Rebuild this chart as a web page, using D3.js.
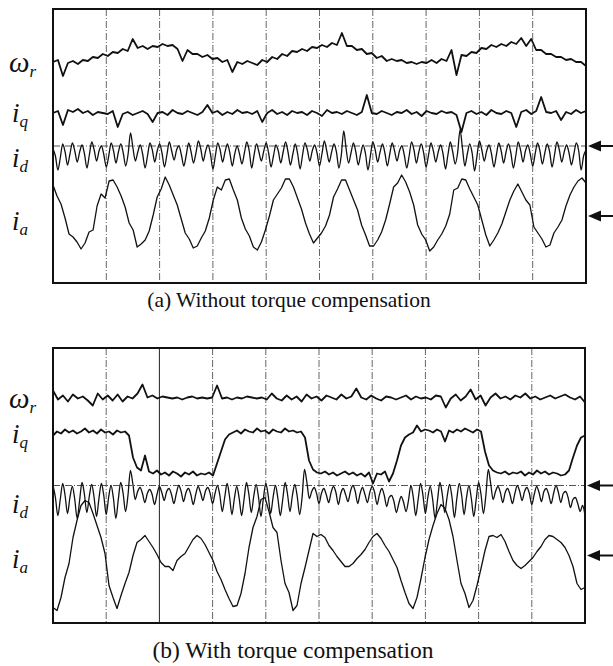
<!DOCTYPE html>
<html>
<head>
<meta charset="utf-8">
<script src="https://cdn.jsdelivr.net/npm/d3@7"></script>
<style>
  html, body { margin: 0; padding: 0; background: #fff; }
  svg { display: block; }
</style>
</head>
<body>
<svg id="chart" width="613" height="666"></svg>
<script>
// ---------------- DATA (read from the scope captures) ----------------
// time axis: 10 scope divisions; vertical values in screen units relative to the centre line
const timeDivisions = [0, 10];
const gridDivisions = [1, 2, 3, 4, 5, 6, 7, 8, 9];
const traceNames = ["ω", "i", "i", "i"];
const traceSubs = ["r", "q", "d", "a"];
const captions = ["(a) Without torque compensation", "(b) With torque compensation"];
const groundMarks = [0, -70];   // id and ia zero levels (arrows)

// ---- (a) without torque compensation ----
const wrA = [84,86,70,83,85,82,86,85,89,88, 92,90,94,93,97,95,107,98,100,97,
  100,99,102,100,101,97,85,96,92,92, 89,91,87,88,84,86,74,84,82,85,
  83,81,86,84,89,87,92,90,95,94, 97,95,99,98,101,99,103,101,113,100,
  100,96,97,92,93,88,90,85,87,85, 86,83,84,82,84,83,86,83,87,85,
  96,71,91,90,94,93,98,97,101,99, 102,100,104,102,108,100,107,96,96,92,
  92,89,89,86,87,84,84,80];
const iqA = [33,35,21,36,34,37,33,35,31,34, 33,32,35,19,32,34,31,33,35,32,
  24,33,34,31,36,33,32,35,33,31, 34,41,33,35,31,34,32,36,33,34,
  32,35,24,33,36,32,34,31,35,33, 34,31,35,33,30,36,33,34,32,35,
  33,31,34,51,33,32,35,33,31,34, 33,36,32,34,30,35,33,32,35,33,
  34,31,14,33,35,32,34,31,36,33, 32,35,33,19,34,36,32,35,49,34,
  33,35,26,34,32,36,33,35];
const idA = [-3,-10,-24,-12, 2,-6,-19,-8, 3,-5,-16,-6, 1,-8,-22,-9, 4,-4,-15,-5,
  0,-9,-21,-10, 3,-5,-17,-6, 2,-7,-20,-8, 13,-2,-15,-6, 1,-8,-22,-10,
  3,-4,-16,-5, 2,-7,-21,-9, 4,-5,-14,-4, 0,-9,-20,-9, 3,-6,-17,-7,
  5,-3,-15,-5, 1,-8,-23,-10, 3,-4,-16,-6, 2,-7,-20,-8, 0,-8,-18,-7,
  4,-5,-22,-9, 2,-6,-15,-5, 3,-7,-21,-10, 1,-5,-17,-6, 4,-6,-19,-8,
  2,-8,-23,-9, 3,-4,-15,-5, 1,-7,-20,-8, 5,-5,-16,-6, 2,-6,-22,-9,
  15,-3,-17,-7, 3,-6,-19,-8, 1,-8,-24,-10, 4,-4,-16,-6, 2,-7,-20,-8,
  3,-5,-15,-5, 0,-9,-22,-10, 4,-4,-17,-6, 2,-7,-21,-9, 3,-5,-16,-6,
  1,-8,-23,-9, 4,-6,-18,-7, 16,-2,-20,-8, 2,-7,-25,-10, 5,-4,-15,-5,
  1,-8,-21,-9, 3,-5,-17,-6, 2,-7,-22,-10, 4,-4,-16,-5, 1,-8,-20,-8,
  3,-5,-18,-7, 2,-6,-21,-9, 4,-4,-16,-6, 1,-7,-19,-8, 3,-5,-24,-10, -4];
const iaA = [-39,-50,-58,-72,-88,-91,-96,-103,-97,-86, -84,-60,-48,-52,-35,-34,-41,-50,-61,-77,
  -84,-101,-98,-94,-85,-69,-51,-43,-31,-39, -49,-59,-73,-87,-93,-102,-100,-92,-85,-72,
  -54,-41,-44,-34,-33,-44,-54,-72,-83,-90, -101,-104,-96,-84,-70,-54,-48,-42,-33,-33,
  -41,-52,-63,-77,-88,-97,-92,-87,-80,-69, -51,-43,-34,-34,-44,-54,-64,-79,-89,-100,
  -100,-94,-86,-74,-58,-41,-37,-29,-36,-46, -59,-79,-88,-94,-105,-101,-94,-88,-80,-68,
  -44,-42,-33,-34,-43,-51,-59,-74,-89,-100, -94,-87,-78,-66,-54,-45,-38,-46,-54,-59,
  -81,-87,-93,-101,-99,-87,-81,-74,-60,-49, -41,-35,-32,-37];

// ---- (b) with torque compensation ----
const wrB = [95,86,90,84,91,87,89,85,80,92, 86,90,85,91,84,89,87,92,101,88,
  90,87,89,88,87,88,86,88,89,87, 88,87,88,100,87,88,86,88,87,89,
  88,87,88,86,92,87,85,90,86,89, 84,91,87,89,85,90,88,86,91,87,
  89,97,88,86,90,87,85,89,88,86, 88,90,86,89,87,88,86,90,89,78,
  87,91,85,89,96,86,90,80,88,92, 87,89,86,90,88,92,87,89,86,88,
  90,87,89,91,88,86,89,83];
const iqB = [50,54,52,56,53,55,52,54,57,53, 55,52,56,53,54,51,55,53,54,50,
  28,18,15,30,14,12,15,11,13,10, 14,12,9,13,11,14,10,12,11,13,
  10,22,34,46,51,53,55,52,56,54, 53,57,54,55,52,56,54,53,57,54,
  55,53,54,48,25,16,13,12,14,11, 13,10,12,14,11,13,10,12,9,13,
  2,12,11,14,4,12,25,40,48,51, 53,60,54,56,55,53,56,54,44,55,
  53,56,54,57,55,53,56,54,34,20, 15,13,12,14,11,13,12,14,10,13,
  11,15,12,14,11,13,12,10,11,15, 28,40,48,50];
const idB = [0,-12,-30,-14, 2,-10,-28,-12, -1,-14,-33,-15, 3,-9,-27,-11, 1,-12,-31,-13,
  2,-10,-29,-12, 0,-13,-33,-14, 3,-8,-26,-10, 15,2,-14,-6, -2,-8,-17,-8,
  -4,-9,-19,-9, -1,-7,-15,-6, -3,-9,-18,-8, 0,-6,-16,-7, -3,-9,-19,-9,
  -1,-7,-15,-6, -2,-8,-18,-8, 0,-10,-26,-12, 2,-11,-29,-13, -1,-13,-30,-14,
  3,-9,-27,-11, 1,-12,-31,-13, 2,-10,-28,-12, 0,-13,-30,-14, 3,-9,-26,-10,
  1,-11,-29,-12, 16,3,-13,-6, -2,-8,-18,-8, -3,-9,-17,-7, -1,-7,-19,-8,
  -3,-9,-16,-6, 0,-6,-18,-8, -2,-9,-17,-7, -1,-7,-19,-9, -3,-10,-21,-12,
  -10,-16,-27,-18, -11,-17,-26,-15, 0,-12,-30,-14, 2,-10,-28,-12, -1,-14,-33,-15,
  3,-9,-27,-11, 1,-12,-32,-13, 2,-10,-29,-12, 0,-13,-31,-14, 3,-9,-28,-10,
  16,2,-14,-6, -1,-7,-17,-7, -3,-9,-18,-8, 0,-6,-15,-6, -2,-8,-19,-9,
  -1,-7,-16,-6, -3,-9,-18,-8, 0,-7,-17,-8, -6,-12,-22,-14, -12,-18,-26,-20, -30];
const iaB = [-122,-125,-112,-92,-78,-52,-35,-20,-15,-17, -28,-40,-52,-68,-100,-112,-123,-110,-98,-87,
  -70,-57,-54,-50,-56,-62,-69,-77,-81,-81, -85,-75,-71,-68,-61,-54,-50,-53,-59,-67,
  -75,-86,-94,-104,-113,-121,-120,-108,-88,-62, -42,-31,-14,-12,-26,-42,-47,-75,-98,-107,
  -125,-120,-98,-82,-65,-48,-51,-49,-52,-60, -65,-71,-76,-81,-81,-78,-73,-69,-64,-57,
  -51,-48,-53,-60,-66,-74,-82,-95,-107,-118, -123,-112,-93,-72,-54,-40,-28,-19,-23,-34,
  -51,-75,-98,-108,-122,-115,-100,-83,-65,-51, -50,-52,-49,-56,-66,-75,-80,-83,-80,-76,
  -72,-66,-61,-54,-50,-51,-54,-57,-62,-70, -81,-98,-104,-102];

const panelData = [
  { traces: [wrA, iqA, idA, iaA] },
  { traces: [wrB, iqB, idB, iaB] }
];

// ---------------- LAYOUT ----------------
const layout = [
  { left: 53, right: 586, top: 9, bottom: 283, labelY: [72, 122, 167, 230], captionX: 289, captionY: 307, captionSize: 21.5, solidGrid: -1 },
  { left: 53, right: 585, top: 348, bottom: 623, labelY: [408, 443, 513, 568], captionX: 293, captionY: 658, captionSize: 23.5, solidGrid: 2 }
];
const traceWidths = [1.8, 1.8, 1.3, 1.3];
const traceCurves = [d3.curveLinear, d3.curveLinear, d3.curveMonotoneX, d3.curveLinear];

const svg = d3.select("#chart");
svg.append("rect").attr("width", 613).attr("height", 666).attr("fill", "#fff");

panelData.forEach((p, pi) => {
  const L = layout[pi];
  const half = (L.bottom - L.top) / 2;
  const x = d3.scaleLinear().domain(timeDivisions).range([L.left, L.right]);
  const y = d3.scaleLinear().domain([-half, half]).range([L.bottom, L.top]);
  const g = svg.append("g");

  // vertical graticule
  g.selectAll("line.grid").data(gridDivisions).join("line")
    .attr("class", "grid")
    .attr("x1", d => x(d)).attr("x2", d => x(d))
    .attr("y1", L.top).attr("y2", L.bottom)
    .attr("stroke", d => d === L.solidGrid ? "#222" : "#666")
    .attr("stroke-width", 1)
    .attr("stroke-dasharray", d => d === L.solidGrid ? null : "7,2,1,2");

  // horizontal reference (id zero)
  g.append("line")
    .attr("x1", L.left).attr("x2", L.right)
    .attr("y1", y(groundMarks[0])).attr("y2", y(groundMarks[0]))
    .attr("stroke", "#555").attr("stroke-width", 1)
    .attr("stroke-dasharray", "7,2,1,2");

  // traces
  p.traces.forEach((arr, ti) => {
    const n = arr.length;
    const line = d3.line()
      .curve(traceCurves[ti])
      .x((d, i) => x(timeDivisions[0] + i * (timeDivisions[1] - timeDivisions[0]) / (n - 1)))
      .y(d => y(d));
    g.append("path").datum(arr)
      .attr("d", line)
      .attr("fill", "none")
      .attr("stroke", "#111")
      .attr("stroke-width", traceWidths[ti])
      .attr("stroke-linejoin", "round");
  });

  // frame
  g.append("rect")
    .attr("x", L.left).attr("y", L.top)
    .attr("width", L.right - L.left).attr("height", L.bottom - L.top)
    .attr("fill", "none").attr("stroke", "#111").attr("stroke-width", 2);

  // ground arrows
  groundMarks.forEach(v => {
    const yy = y(v);
    g.append("line").attr("x1", L.right + 12).attr("x2", 613)
      .attr("y1", yy).attr("y2", yy).attr("stroke", "#111").attr("stroke-width", 2);
    g.append("path")
      .attr("d", d3.line()([[L.right + 2, yy], [L.right + 15, yy - 5.5], [L.right + 15, yy + 5.5]]) + "Z")
      .attr("fill", "#111");
  });

  // trace labels
  traceNames.forEach((nm, ti) => {
    const t = g.append("text")
      .attr("x", ti === 0 ? 9 : 12)
      .attr("y", L.labelY[ti])
      .attr("font-family", "'Liberation Serif', 'Times New Roman', serif")
      .attr("font-style", "italic")
      .attr("font-size", ti === 0 ? 29 : 27)
      .attr("fill", "#111");
    t.append("tspan").text(nm);
    t.append("tspan").attr("font-size", 17).attr("dy", 5).text(traceSubs[ti]);
  });

  // caption
  svg.append("text")
    .attr("x", L.captionX)
    .attr("y", L.captionY)
    .attr("text-anchor", "middle")
    .attr("font-family", "'Liberation Serif', 'Times New Roman', serif")
    .attr("font-size", L.captionSize)
    .attr("fill", "#111")
    .text(captions[pi]);
});
</script>
</body>
</html>
